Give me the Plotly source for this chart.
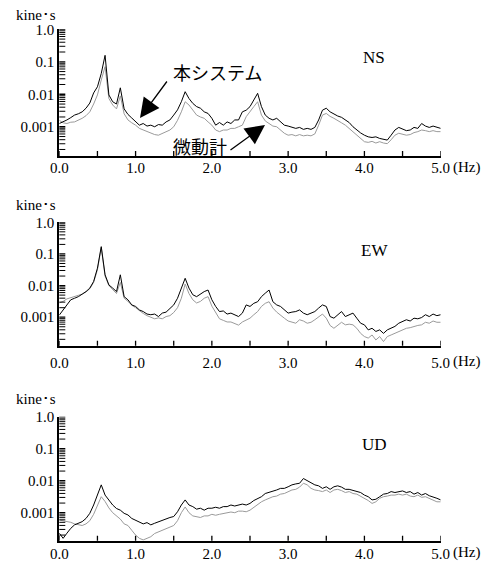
import plotly.graph_objects as go

# ---------------- data (amplitude, kine*s) ----------------
freq = [round(i * 0.05, 2) for i in range(101)]  # 0.00 ... 5.00 Hz

ns_system = [
    1.26e-3, 1.41e-3, 1.62e-3, 1.91e-3, 2.29e-3, 2.51e-3, 2.88e-3, 3.72e-3, 5.37e-3, 1.10e-2,
    1.70e-2, 4.37e-2, 1.58e-1, 9.55e-3, 5.89e-3, 5.01e-3, 1.58e-2, 3.55e-3, 2.40e-3, 1.86e-3,
    1.41e-3, 1.12e-3, 1.26e-3, 1.05e-3, 1.12e-3, 1.00e-3, 1.17e-3, 1.12e-3, 1.41e-3, 1.62e-3,
    2.29e-3, 3.31e-3, 5.89e-3, 1.20e-2, 7.41e-3, 5.25e-3, 4.17e-3, 3.72e-3, 2.88e-3, 2.57e-3,
    1.82e-3, 1.12e-3, 1.35e-3, 1.12e-3, 1.41e-3, 1.26e-3, 1.62e-3, 1.62e-3, 2.88e-3, 3.24e-3,
    4.17e-3, 6.61e-3, 1.07e-2, 4.17e-3, 2.29e-3, 1.82e-3, 1.62e-3, 1.82e-3, 1.41e-3, 1.12e-3,
    1.05e-3, 9.55e-4, 8.91e-4, 9.55e-4, 8.32e-4, 8.91e-4, 8.32e-4, 9.55e-4, 1.62e-3, 3.24e-3,
    3.72e-3, 2.88e-3, 2.45e-3, 2.14e-3, 1.95e-3, 1.62e-3, 1.35e-3, 1.00e-3, 7.94e-4, 6.46e-4,
    5.50e-4, 4.90e-4, 4.68e-4, 4.90e-4, 4.37e-4, 4.07e-4, 3.89e-4, 5.50e-4, 7.94e-4, 9.55e-4,
    8.32e-4, 7.59e-4, 7.94e-4, 9.55e-4, 8.91e-4, 1.26e-3, 1.05e-3, 9.55e-4, 1.05e-3, 9.55e-4,
    8.91e-4,
]
ns_meter = [
    1.58e-3, 1.32e-3, 1.26e-3, 1.38e-3, 1.41e-3, 1.58e-3, 1.82e-3, 2.19e-3, 2.88e-3, 5.01e-3,
    9.55e-3, 2.75e-2, 7.08e-2, 7.41e-3, 4.68e-3, 3.55e-3, 8.91e-3, 2.51e-3, 1.62e-3, 1.32e-3,
    1.12e-3, 8.91e-4, 7.94e-4, 7.08e-4, 6.31e-4, 5.75e-4, 5.50e-4, 6.31e-4, 7.08e-4, 7.94e-4,
    1.00e-3, 1.58e-3, 2.88e-3, 5.89e-3, 4.68e-3, 3.16e-3, 2.29e-3, 2.00e-3, 1.82e-3, 1.41e-3,
    1.12e-3, 7.94e-4, 7.08e-4, 7.94e-4, 7.94e-4, 8.91e-4, 8.91e-4, 1.00e-3, 1.12e-3, 2.04e-3,
    2.82e-3, 4.17e-3, 5.89e-3, 2.29e-3, 1.51e-3, 1.26e-3, 1.05e-3, 1.00e-3, 7.94e-4, 6.31e-4,
    5.50e-4, 5.75e-4, 5.25e-4, 5.75e-4, 5.25e-4, 5.50e-4, 5.25e-4, 6.03e-4, 1.12e-3, 2.29e-3,
    2.57e-3, 2.09e-3, 1.82e-3, 1.51e-3, 1.32e-3, 1.12e-3, 8.91e-4, 7.08e-4, 5.50e-4, 4.37e-4,
    3.47e-4, 3.31e-4, 3.55e-4, 3.16e-4, 3.47e-4, 3.16e-4, 3.02e-4, 3.98e-4, 5.50e-4, 6.31e-4,
    5.75e-4, 5.50e-4, 5.75e-4, 6.61e-4, 7.08e-4, 7.94e-4, 7.59e-4, 7.08e-4, 7.59e-4, 7.08e-4,
    7.08e-4,
]
ew_system = [
    1.17e-3, 1.70e-3, 2.45e-3, 3.55e-3, 3.98e-3, 4.47e-3, 5.37e-3, 6.46e-3, 8.32e-3, 1.35e-2,
    3.55e-2, 1.70e-1, 2.19e-2, 1.05e-2, 8.32e-3, 6.46e-3, 2.19e-2, 4.47e-3, 3.55e-3, 2.45e-3,
    2.19e-3, 1.70e-3, 1.51e-3, 1.26e-3, 1.20e-3, 1.26e-3, 1.05e-3, 1.35e-3, 1.45e-3, 1.95e-3,
    2.45e-3, 3.98e-3, 8.32e-3, 1.70e-2, 8.32e-3, 5.13e-3, 4.47e-3, 5.37e-3, 6.46e-3, 7.24e-3,
    3.55e-3, 2.19e-3, 1.51e-3, 1.58e-3, 1.26e-3, 1.35e-3, 1.20e-3, 1.05e-3, 1.35e-3, 2.45e-3,
    2.19e-3, 2.75e-3, 3.09e-3, 4.47e-3, 5.75e-3, 7.24e-3, 3.09e-3, 2.45e-3, 2.19e-3, 1.70e-3,
    1.35e-3, 1.45e-3, 1.51e-3, 1.70e-3, 1.35e-3, 1.20e-3, 1.35e-3, 1.51e-3, 1.95e-3, 2.45e-3,
    2.19e-3, 1.05e-3, 9.33e-4, 1.20e-3, 1.51e-3, 1.05e-3, 1.20e-3, 1.35e-3, 9.33e-4, 6.46e-4,
    5.75e-4, 3.98e-4, 4.47e-4, 3.55e-4, 3.98e-4, 3.09e-4, 3.98e-4, 4.47e-4, 5.13e-4, 6.46e-4,
    7.24e-4, 8.32e-4, 7.59e-4, 9.33e-4, 8.91e-4, 9.77e-4, 1.20e-3, 1.05e-3, 1.26e-3, 1.12e-3,
    1.20e-3,
]
ew_meter = [
    2.82e-3, 3.16e-3, 3.80e-3, 4.17e-3, 4.47e-3, 4.79e-3, 5.37e-3, 6.31e-3, 7.94e-3, 1.26e-2,
    3.16e-2, 1.58e-1, 2.00e-2, 1.00e-2, 7.59e-3, 5.62e-3, 1.26e-2, 3.98e-3, 3.16e-3, 2.40e-3,
    2.00e-3, 1.58e-3, 1.32e-3, 1.12e-3, 1.00e-3, 8.91e-4, 9.55e-4, 8.91e-4, 1.05e-3, 1.12e-3,
    1.41e-3, 2.00e-3, 3.98e-3, 1.12e-2, 5.62e-3, 3.55e-3, 2.82e-3, 3.16e-3, 3.98e-3, 4.47e-3,
    2.24e-3, 1.41e-3, 8.91e-4, 7.94e-4, 7.08e-4, 7.08e-4, 6.31e-4, 5.62e-4, 7.08e-4, 8.32e-4,
    9.33e-4, 1.20e-3, 1.51e-3, 2.19e-3, 2.75e-3, 3.09e-3, 1.95e-3, 1.45e-3, 1.20e-3, 9.33e-4,
    7.59e-4, 6.92e-4, 6.46e-4, 8.32e-4, 7.59e-4, 6.46e-4, 6.92e-4, 8.32e-4, 1.05e-3, 1.26e-3,
    9.33e-4, 5.50e-4, 4.47e-4, 5.75e-4, 6.92e-4, 5.75e-4, 6.03e-4, 5.75e-4, 4.47e-4, 3.09e-4,
    2.45e-4, 2.19e-4, 2.75e-4, 1.91e-4, 2.45e-4, 1.70e-4, 2.45e-4, 2.75e-4, 3.09e-4, 3.55e-4,
    3.98e-4, 4.47e-4, 4.68e-4, 5.13e-4, 5.50e-4, 5.75e-4, 6.92e-4, 6.46e-4, 7.59e-4, 6.92e-4,
    6.92e-4,
]
ud_system = [
    2.29e-4, 1.58e-4, 2.29e-4, 3.24e-4, 4.17e-4, 4.68e-4, 5.25e-4, 6.61e-4, 9.55e-4, 1.74e-3,
    3.55e-3, 7.41e-3, 3.55e-3, 2.51e-3, 1.74e-3, 1.35e-3, 1.20e-3, 9.55e-4, 8.51e-4, 6.61e-4,
    5.89e-4, 5.25e-4, 4.47e-4, 4.90e-4, 4.17e-4, 4.68e-4, 5.25e-4, 5.89e-4, 6.61e-4, 7.08e-4,
    7.59e-4, 1.07e-3, 1.74e-3, 2.51e-3, 1.74e-3, 1.55e-3, 1.29e-3, 1.38e-3, 1.20e-3, 1.38e-3,
    1.38e-3, 1.48e-3, 1.38e-3, 1.55e-3, 1.55e-3, 1.74e-3, 1.62e-3, 1.74e-3, 1.86e-3, 1.74e-3,
    1.95e-3, 2.40e-3, 2.82e-3, 3.16e-3, 3.98e-3, 4.27e-3, 4.57e-3, 5.13e-3, 5.75e-3, 5.75e-3,
    6.46e-3, 7.41e-3, 7.94e-3, 8.32e-3, 1.17e-2, 1.00e-2, 8.32e-3, 7.41e-3, 6.92e-3, 5.75e-3,
    6.46e-3, 5.37e-3, 6.46e-3, 6.92e-3, 6.31e-3, 5.37e-3, 5.37e-3, 4.90e-3, 4.57e-3, 4.27e-3,
    3.55e-3, 3.16e-3, 2.51e-3, 2.63e-3, 3.16e-3, 3.80e-3, 3.98e-3, 4.57e-3, 4.27e-3, 4.57e-3,
    4.79e-3, 4.27e-3, 4.57e-3, 3.80e-3, 4.27e-3, 3.55e-3, 3.98e-3, 3.39e-3, 3.16e-3, 2.82e-3,
    2.51e-3,
]
ud_meter = [
    5.89e-4, 5.62e-4, 5.25e-4, 5.01e-4, 4.47e-4, 4.17e-4, 3.98e-4, 4.47e-4, 5.62e-4, 8.91e-4,
    1.58e-3, 3.16e-3, 2.24e-3, 1.41e-3, 1.00e-3, 7.94e-4, 6.31e-4, 4.47e-4, 3.98e-4, 2.82e-4,
    2.00e-4, 1.58e-4, 1.41e-4, 1.58e-4, 1.78e-4, 2.24e-4, 2.51e-4, 2.82e-4, 3.16e-4, 3.55e-4,
    3.98e-4, 5.62e-4, 1.00e-3, 1.51e-3, 1.00e-3, 7.94e-4, 7.59e-4, 7.08e-4, 7.94e-4, 7.94e-4,
    8.91e-4, 8.32e-4, 8.91e-4, 9.55e-4, 1.00e-3, 1.05e-3, 1.00e-3, 1.12e-3, 1.12e-3, 1.07e-3,
    1.20e-3, 1.48e-3, 1.74e-3, 2.19e-3, 2.51e-3, 2.82e-3, 3.16e-3, 3.31e-3, 3.80e-3, 3.98e-3,
    4.57e-3, 5.13e-3, 5.37e-3, 6.31e-3, 8.32e-3, 7.41e-3, 5.75e-3, 5.13e-3, 4.90e-3, 4.57e-3,
    5.13e-3, 4.27e-3, 5.13e-3, 5.37e-3, 4.90e-3, 4.27e-3, 4.57e-3, 3.98e-3, 3.80e-3, 3.31e-3,
    2.82e-3, 2.40e-3, 1.95e-3, 2.19e-3, 2.82e-3, 3.16e-3, 3.31e-3, 3.55e-3, 3.55e-3, 3.80e-3,
    3.55e-3, 3.80e-3, 3.31e-3, 3.16e-3, 3.55e-3, 3.02e-3, 3.16e-3, 2.82e-3, 2.51e-3, 2.19e-3,
    2.19e-3,
]

panel_names = ["NS", "EW", "UD"]
series_system = [ns_system, ew_system, ud_system]
series_meter = [ns_meter, ew_meter, ud_meter]

x_tickvals = [0, 0.5, 1, 1.5, 2, 2.5, 3, 3.5, 4, 4.5, 5]
x_ticktext = ["0.0", "", "1.0", "", "2.0", "", "3.0", "", "4.0", "", "5.0"]
y_tickvals = [1e-3, 1e-2, 1e-1, 1.0]
y_ticktext = ["0.001", "0.01", "0.1", "1.0"]
unit_label = "kine･s"
label_system = "本システム"
label_meter = "微動計"

# ---------------- layout ----------------
W, H = 491, 562
SERIF = "Liberation Serif, Times New Roman, serif"
JP = "Noto Sans CJK JP"

x_dom = [59.3 / W, 440.7 / W]
# (top px, bottom px, log range bottom, x tick label standoff, unit label offset)
panels = [
    (29.3, 156.0, -3.90, -3, 14),
    (222.3, 345.7, -3.90, 2, 17),
    (416.7, 540.7, -3.875, -2, 18),
]

minor_vals = [k * 10.0 ** e for e in (-4, -3, -2, -1) for k in range(2, 10)]

fig = go.Figure()
layout = dict(
    width=W, height=H, autosize=False,
    margin=dict(l=0, r=0, t=0, b=0, pad=0, autoexpand=False),
    paper_bgcolor="white", plot_bgcolor="white",
    showlegend=False,
    font=dict(family=SERIF, color="black"),
)

annotations = []
shapes = []
for i, (top, bot, ybot, standoff, uoff) in enumerate(panels):
    n = "" if i == 0 else str(i + 1)
    xa, ya = "x" + n, "y" + n
    fig.add_trace(go.Scatter(x=freq, y=series_meter[i], mode="lines",
                             line=dict(color="#9a9a9a", width=1),
                             xaxis=xa, yaxis=ya, hoverinfo="skip"))
    fig.add_trace(go.Scatter(x=freq, y=series_system[i], mode="lines",
                             line=dict(color="black", width=1),
                             xaxis=xa, yaxis=ya, hoverinfo="skip"))
    layout["xaxis" + n] = dict(
        domain=x_dom, range=[0, 5], anchor=ya, automargin=False,
        showgrid=False, zeroline=False, showline=True,
        linecolor="black", linewidth=2, ticks="",
        tickmode="array", tickvals=x_tickvals, ticktext=x_ticktext,
        tickfont=dict(family=SERIF, size=15, color="black"),
        ticklabelstandoff=standoff,
    )
    layout["yaxis" + n] = dict(
        domain=[1 - bot / H, 1 - top / H], type="log", range=[ybot, 0],
        anchor=xa, automargin=False, showgrid=False, zeroline=False, showline=True,
        linecolor="black", linewidth=2, ticks="",
        tickmode="array", tickvals=y_tickvals, ticktext=y_ticktext,
        tickfont=dict(family=SERIF, size=15, color="black"),
    )
    # tick marks drawn as short pixel-sized segments anchored on the axes
    for xv in x_tickvals:
        shapes.append(dict(type="line", xref=xa, yref=ya + " domain",
                           x0=xv, x1=xv, ysizemode="pixel", yanchor=0, y0=0, y1=5,
                           line=dict(color="black", width=1.3), layer="above"))
    for yv in y_tickvals + minor_vals:
        shapes.append(dict(type="line", xref=xa + " domain", yref=ya,
                           xsizemode="pixel", xanchor=0, x0=0, x1=6, y0=yv, y1=yv,
                           line=dict(color="black", width=1.3 if yv in y_tickvals else 1),
                           layer="above"))
    annotations.append(dict(text=unit_label, xref="paper", yref="paper",
                            x=14 / W, y=1 - (top - uoff) / H, xanchor="left", yanchor="middle",
                            showarrow=False, font=dict(family=SERIF, size=15, color="black")))
    annotations.append(dict(text=panel_names[i], xref="paper", yref="paper",
                            x=374 / W, y=1 - (top + 28) / H, xanchor="center", yanchor="middle",
                            showarrow=False, font=dict(family=SERIF, size=17, color="black")))
    annotations.append(dict(text="(Hz)", xref="paper", yref="paper",
                            x=451 / W, y=1 - (bot + [11, 16, 12][i]) / H,
                            xanchor="left", yanchor="middle",
                            showarrow=False, font=dict(family=SERIF, size=15, color="black")))

annotations.append(dict(text=label_system, xref="paper", yref="paper",
                        x=171 / W, y=1 - 72 / H, xanchor="left", yanchor="middle",
                        showarrow=False, font=dict(family=JP, size=18, color="black")))
annotations.append(dict(text=label_meter, xref="paper", yref="paper",
                        x=171 / W, y=1 - 146 / H, xanchor="left", yanchor="middle",
                        showarrow=False, font=dict(family=JP, size=18, color="black")))
annotations.append(dict(text="", xref="paper", yref="paper",
                        x=140 / W, y=1 - 118 / H, ax=28, ay=-38,
                        showarrow=True, arrowhead=2, arrowsize=3, arrowwidth=1.3,
                        arrowcolor="black", standoff=0))
annotations.append(dict(text="", xref="paper", yref="paper",
                        x=265 / W, y=1 - 125 / H, ax=-36, ay=26,
                        showarrow=True, arrowhead=2, arrowsize=3, arrowwidth=1.3,
                        arrowcolor="black", standoff=0))

layout["annotations"] = annotations
layout["shapes"] = shapes
fig.update_layout(**layout)
fig.write_html("out.html", config={"displayModeBar": False},
               post_script="document.body.style.margin='0';document.body.style.overflow='hidden';")
